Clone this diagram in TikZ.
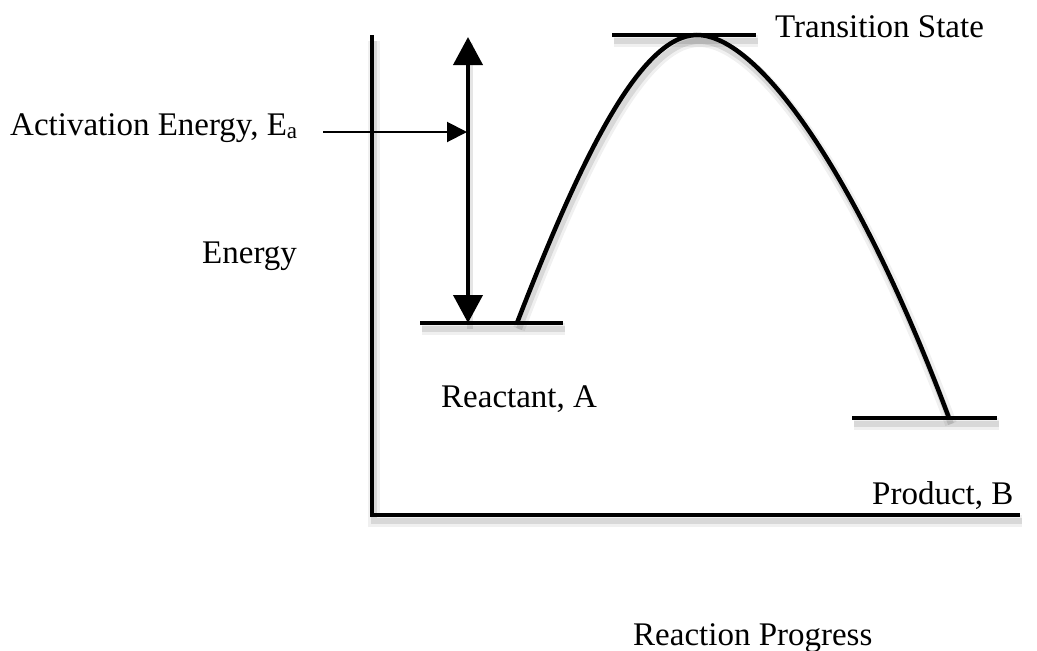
\documentclass[tikz,border=0pt]{standalone}
\usepackage{fontspec}
\setmainfont{Liberation Serif}
\usetikzlibrary{arrows.meta}
\begin{document}
\begin{tikzpicture}[x=1pt,y=-1pt,
  lbl/.style={anchor=base west, inner sep=0pt, font=\fontsize{33}{40}\selectfont},
  shadowed/.style={
    preaction={draw=black, draw opacity=0.06, line width=12pt, transform canvas={shift={(2pt,-6pt)}}},
    preaction={draw=black, draw opacity=0.10, line width=6pt, transform canvas={shift={(2pt,-6pt)}}}},
  heavy/.style={line width=4pt, shadowed},
  bigtip/.style={line width=4pt, {Triangle[length=28pt,width=29pt]}-{Triangle[length=28pt,width=29pt]}},
  smalltip/.style={line width=2pt, -{Triangle[length=20pt,width=20pt]}},
]
\useasboundingbox (0,0) rectangle (1037,651);
% coordinates
\coordinate (ytop) at (372,35);
\coordinate (origin) at (372,515);
\coordinate (xend) at (1020,515);
\coordinate (eatop) at (468,37);
\coordinate (eabot) at (468,323);
\coordinate (eamid) at (467,132);
\coordinate (actstart) at (323,132);
\coordinate (r1) at (420,323);
\coordinate (r2) at (563,323);
\coordinate (t1) at (612,35);
\coordinate (t2) at (756,35);
\coordinate (p1) at (852,418);
\coordinate (p2) at (997,418);
\coordinate (rs) at (517,323);
\coordinate (peak) at (697,35);
\coordinate (pe) at (949,418);
% axes
\draw[heavy, line join=miter] (ytop) -- (origin) -- (xend);
% levels
\draw[heavy] (r1) -- (r2);
\draw[heavy] (t1) -- (t2);
\draw[heavy] (p1) -- (p2);
% energy curve
\draw[line width=4.5pt, shadowed] (rs) .. controls (580,160) and (640,35) .. (peak)
  .. controls (760,35) and (860,180) .. (pe);
% activation energy double arrow
\draw[draw=black, draw opacity=0.10, line width=6pt, transform canvas={shift={(2pt,-6pt)}}] (eatop) -- (eabot);
\draw[bigtip] (eatop) -- (eabot);
% labels
\node[lbl] (ts) at (775,37) {Transition State};
\node[lbl] (act) at (10,135) {Activation Energy, E\textsubscript{a}};
\node[lbl] (en) at (202,263) {Energy};
\node[lbl] (ra) at (441,407) {Reactant, A};
\node[lbl] (pb) at (872,504) {Product, B};
\node[lbl] (rp) at (633,645) {Reaction Progress};
% pointer arrow
\draw[smalltip] (actstart) -- (eamid);
\end{tikzpicture}
\end{document}
